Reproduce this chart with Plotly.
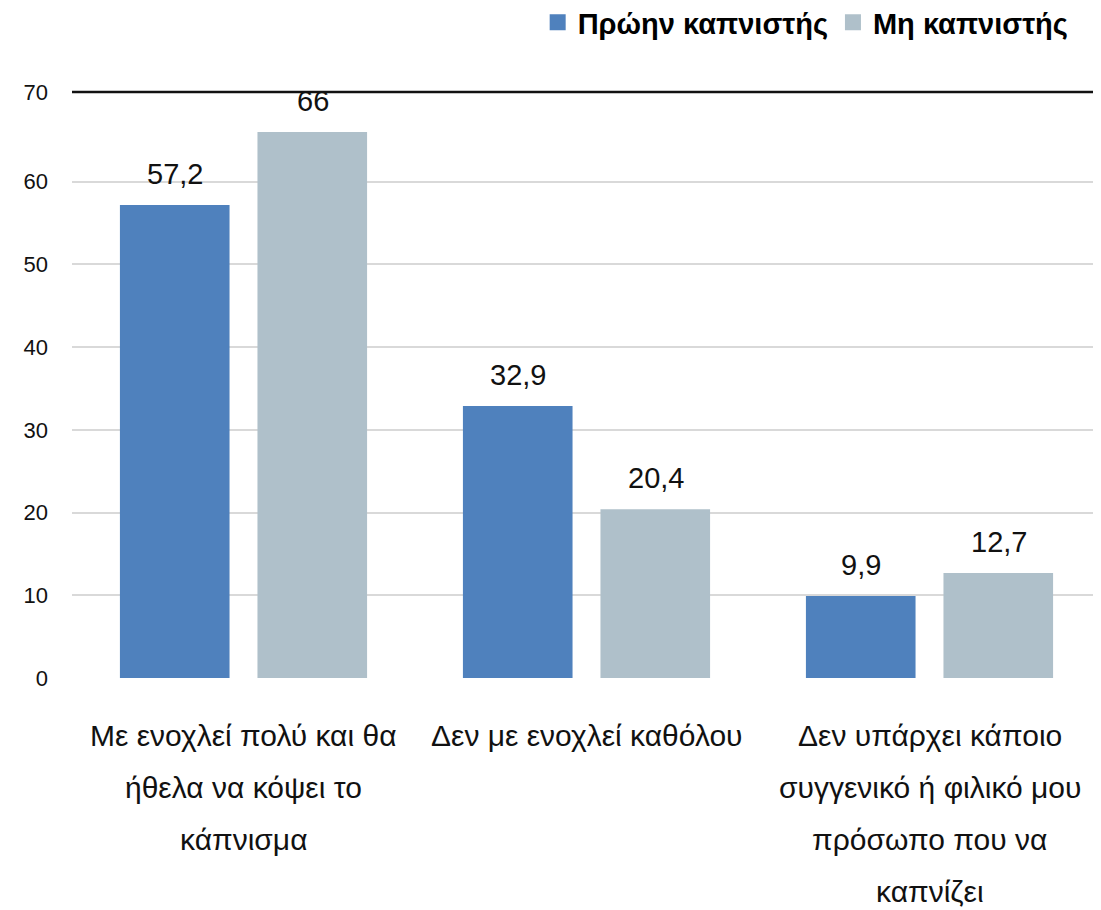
"""
Grouped bar chart: former smokers vs non-smokers
"""

import plotly.graph_objects as go

categories = ['c1', 'c2', 'c3']
category_lines = [
    ['Με ενοχλεί πολύ και θα', 'ήθελα να κόψει το', 'κάπνισμα'],
    ['Δεν με ενοχλεί καθόλου'],
    ['Δεν υπάρχει κάποιο', 'συγγενικό ή φιλικό μου', 'πρόσωπο που να', 'καπνίζει'],
]
series_names = ['Πρώην καπνιστής', 'Μη καπνιστής']
former_smoker = [57.2, 32.9, 9.9]
non_smoker = [66, 20.4, 12.7]
y_ticks = [0, 10, 20, 30, 40, 50, 60, 70]

FONT = 'Liberation Sans'
colors = ['#4F81BD', '#AFC0CA']
# the black frame line sits a little above 70, the "70" label goes with it
Y_TOP = 70.85


def fmt(v):
    return f'{v:g}'.replace('.', ',')


fig = go.Figure()

for name, vals, col in zip(series_names, [former_smoker, non_smoker], colors):
    fig.add_trace(go.Bar(
        name=name,
        x=categories,
        y=vals,
        marker_color=col,
        marker_line_width=0,
        showlegend=False,
    ))

# legend entries with bigger square swatches
for name, col in zip(series_names, colors):
    fig.add_trace(go.Scatter(
        name=name, x=[None], y=[None], mode='markers',
        marker=dict(symbol='square', size=16, color=col),
    ))

# value labels above bars
annotations = []
for k, vals in enumerate([former_smoker, non_smoker]):
    for i, v in enumerate(vals):
        annotations.append(dict(
            x=i, y=v, xref='x', yref='y',
            text=fmt(v), showarrow=False,
            xshift=-69 if k == 0 else 69, yshift=31,
            yanchor='middle',
            font=dict(family=FONT, size=29, color='#111'),
        ))

# category labels, one annotation per line
for i, lines in enumerate(category_lines):
    for j, line in enumerate(lines):
        annotations.append(dict(
            x=i, y=0, xref='x', yref='paper',
            text=line, showarrow=False,
            yanchor='middle', yshift=-(57 + 52 * j),
            font=dict(family=FONT, size=30, color='#111'),
        ))

tick_pos = y_ticks[:-1] + [Y_TOP]
tick_text = [str(t) for t in y_ticks]

# body margin of the page is 8px, so the figure is a bit smaller than the window
fig.update_layout(
    width=1093,
    height=902,
    margin=dict(l=64, r=0, t=84, b=232),
    plot_bgcolor='white',
    paper_bgcolor='white',
    barmode='group',
    bargap=0.198,
    bargroupgap=0.203,
    font=dict(family=FONT, size=22, color='#111'),
    legend=dict(
        orientation='h',
        xref='container', yref='container',
        x=0.975, y=0.984, xanchor='right', yanchor='middle',
        font=dict(family=FONT, size=29, color='#000', weight='bold'),
        itemwidth=30,
        traceorder='normal',
    ),
    annotations=annotations,
    shapes=[dict(
        type='line', xref='paper', yref='paper',
        x0=0, x1=1, y0=1, y1=1,
        line=dict(color='#111', width=2.5),
    )],
)

fig.update_xaxes(showticklabels=False, showline=False, ticks='')
fig.update_yaxes(
    range=[0, Y_TOP],
    tickvals=tick_pos,
    ticktext=tick_text,
    showgrid=True,
    gridcolor='#D9D9D9',
    gridwidth=1.5,
    zeroline=False,
    showline=False,
    ticklabelstandoff=23,
    tickfont=dict(family=FONT, size=22, color='#111'),
)

fig.write_html("out.html")
